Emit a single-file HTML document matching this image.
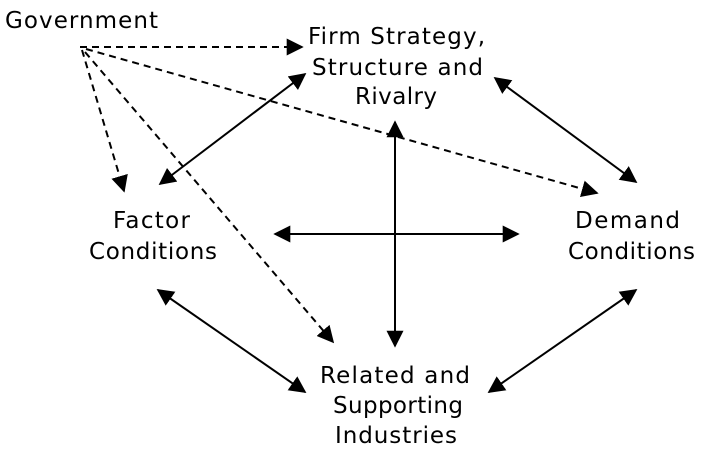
<!DOCTYPE html>
<html><head><style>body{margin:0;background:#fff}</style></head><body>
<svg width="701" height="452" xmlns="http://www.w3.org/2000/svg" style="display:block">
<defs>
<marker id="b" viewBox="0 0 10 10" refX="9" refY="5" markerWidth="17" markerHeight="17" markerUnits="userSpaceOnUse" orient="auto-start-reverse"><path d="M0,0L10,5L0,10z" fill="#000"/></marker>
</defs>
<g font-family="DejaVu Sans, sans-serif" font-size="23" fill="#000" lengthAdjust="spacingAndGlyphs">
<text x="5" y="28" textLength="153">Government</text>
<text x="308" y="44" textLength="177">Firm Strategy,</text>
<text x="312" y="75" textLength="171">Structure and</text>
<text x="355" y="104" textLength="82">Rivalry</text>
<text x="113" y="228" textLength="77">Factor</text>
<text x="89" y="259" textLength="128">Conditions</text>
<text x="575" y="228" textLength="105">Demand</text>
<text x="568" y="259" textLength="127">Conditions</text>
<text x="320" y="383" textLength="150">Related and</text>
<text x="333" y="413" textLength="130">Supporting</text>
<text x="335" y="443" textLength="122">Industries</text>
</g>
<g stroke="#000" stroke-width="2" fill="none">
<g stroke-dasharray="7,5" marker-end="url(#b)">
<line x1="80" y1="47" x2="302" y2="47"/>
<line x1="82" y1="50" x2="124" y2="191"/>
<line x1="85" y1="52" x2="333" y2="342"/>
<line x1="86" y1="49" x2="597" y2="193"/>
</g>
<g marker-start="url(#b)" marker-end="url(#b)">
<line x1="305" y1="74" x2="160" y2="184"/>
<line x1="495" y1="78" x2="636" y2="182"/>
<line x1="395" y1="122" x2="395" y2="346"/>
<line x1="275" y1="234" x2="518" y2="234"/>
<line x1="158" y1="290" x2="305" y2="392"/>
<line x1="636" y1="290" x2="489" y2="392"/>
</g>
</g>
</svg>
</body></html>
